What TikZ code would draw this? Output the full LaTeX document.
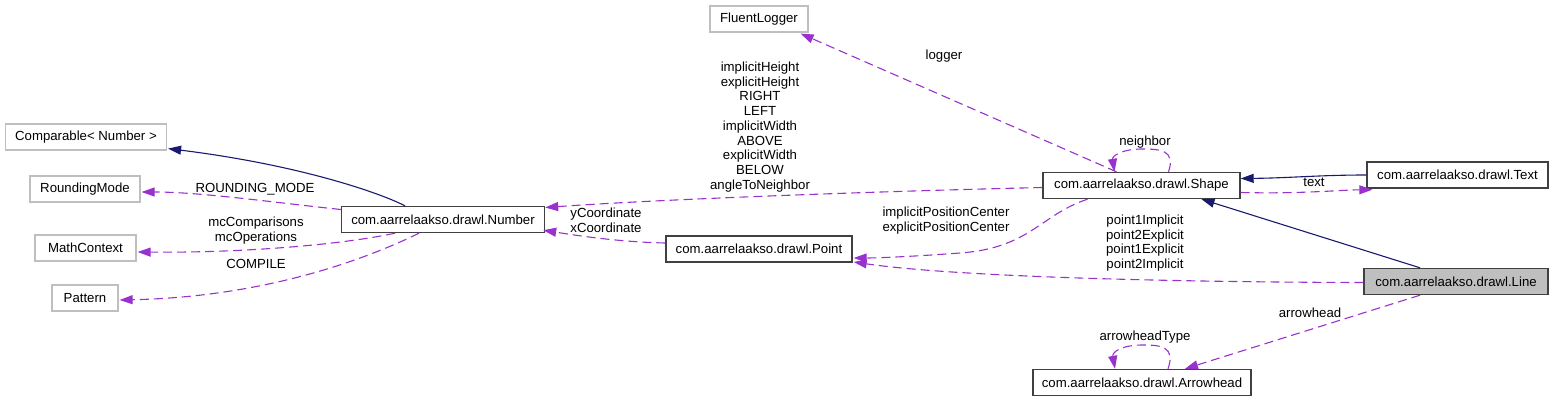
\documentclass[tikz,border=0pt]{standalone}
\usepackage{fontspec}
\setmainfont{Liberation Sans}
\usetikzlibrary{arrows.meta,calc}
\definecolor{navyedge}{RGB}{25,25,112}
\definecolor{useedge}{RGB}{153,50,204}
\definecolor{extgray}{RGB}{191,191,191}
\definecolor{selgray}{RGB}{191,191,191}
\begin{document}
\begin{tikzpicture}[x=1pt,y=-1pt,
  every node/.style={font=\fontsize{13.2}{14.75}\selectfont},
  cls/.style={draw=black!75, line width=1.4pt, rectangle, inner sep=0pt, minimum height=26pt},
  ext/.style={draw=extgray, line width=1.2pt, rectangle, inner sep=0pt, minimum height=26pt},
  inh/.style={draw=navyedge, line width=1.1pt, -{Triangle[length=13pt,width=9pt]}},
  usage/.style={draw=useedge, line width=1.1pt, dash pattern=on 9pt off 5pt, -{Triangle[length=13pt,width=9pt,fill=useedge]}},
  lbl/.style={align=center, inner sep=0pt}]
\useasboundingbox (0,0) rectangle (1553,401);
% nodes
\node[ext, minimum width=161pt] (cmp) at (86,137) {Comparable< Number >};
\node[ext, minimum width=110pt] (rm) at (85,189) {RoundingMode};
\node[ext, minimum width=101pt] (mc) at (85.5,248) {MathContext};
\node[ext, minimum width=66pt] (pat) at (85,298) {Pattern};
\node[ext, minimum width=98pt] (flg) at (759,19) {FluentLogger};
\node[cls, minimum width=203pt] (num) at (443,219.5) {com.aarrelaakso.drawl.Number};
\node[cls, minimum width=197pt] (shp) at (1141.5,185.5) {com.aarrelaakso.drawl.Shape};
\node[cls, minimum width=181pt] (txt) at (1457.5,175) {com.aarrelaakso.drawl.Text};
\node[cls, minimum width=186pt] (pnt) at (759,249) {com.aarrelaakso.drawl.Point};
\node[cls, minimum width=184pt, fill=selgray] (lin) at (1456,281.5) {com.aarrelaakso.drawl.Line};
\node[cls, minimum width=218pt] (arh) at (1142,382.5) {com.aarrelaakso.drawl.Arrowhead};
% inheritance edges
\draw[inh] ($(num.north)+(-38,0)$) .. controls (380,193) and (300,165) .. ($(cmp.south east)+(1,-2)$);
\draw[inh] (txt.west) .. controls (1320,175) and (1290,178) .. ($(shp.east)+(0,-7)$);
\draw[inh] ($(lin.north)+(-36,0)$) -- ($(shp.south)+(60,0)$);
% usage edges
\draw[usage] ($(num.west)+(0,-10)$) .. controls (270,202) and (200,192) .. ($(rm.east)+(1,3)$);
\draw[usage] ($(num.south)+(-48,0)$) .. controls (340,245) and (240,253) .. ($(mc.east)+(1,4)$);
\draw[usage] ($(num.south)+(-24,0)$) .. controls (360,262) and (260,297) .. ($(pat.east)+(1,2)$);
\draw[usage] ($(shp.west)+(0,2)$) .. controls (850,192) and (650,200) .. ($(num.east)+(0,-12)$);
\draw[usage] ($(pnt.west)+(0,-6)$) .. controls (620,242) and (580,236) .. ($(num.south east)+(-2,-3)$);
\draw[usage] ($(shp.north)+(-25,0)$) -- ($(flg.south east)+(-8,1)$);
\draw[usage] ($(shp.north)+(27,0)$) .. controls (1176,150) and (1160,149) .. (1142,149) .. controls (1122,149) and (1112,156) .. ($(shp.north)+(-27,0)$);
\draw[usage] ($(shp.east)+(0,7)$) .. controls (1300,194) and (1340,190) .. ($(txt.south west)+(6,1)$);
\draw[usage] ($(shp.south)+(-54,0)$) .. controls (1040,215) and (1030,248) .. (960,253) .. controls (920,256) and (880,258) .. ($(pnt.east)+(1,9)$);
\draw[usage] ($(lin.west)+(0,1)$) .. controls (1150,282) and (950,276) .. ($(pnt.east)+(1,13)$);
\draw[usage] ($(lin.south)+(-36,0)$) -- ($(arh.north)+(43,0)$);
\draw[usage] ($(arh.north)+(26,0)$) .. controls (1176,346) and (1160,345) .. (1142,345) .. controls (1122,345) and (1112,352) .. ($(arh.north)+(-27,0)$);
% labels
\node[lbl] (l1) at (255,189) {ROUNDING\_MODE};
\node[lbl] (l2) at (256,230.5) {mcComparisons\\mcOperations};
\node[lbl] (l3) at (256,264) {COMPILE};
\node[lbl] (l4) at (760,127) {implicitHeight\\explicitHeight\\RIGHT\\LEFT\\implicitWidth\\ABOVE\\explicitWidth\\BELOW\\angleToNeighbor};
\node[lbl] (l5) at (606,220.5) {yCoordinate\\xCoordinate};
\node[lbl] (l6) at (944,56) {logger};
\node[lbl] (l7) at (1145,142) {neighbor};
\node[lbl] (l8) at (1314,182) {text};
\node[lbl] (l9) at (946,220.5) {implicitPositionCenter\\explicitPositionCenter};
\node[lbl] (l10) at (1145,243) {point1Implicit\\point2Explicit\\point1Explicit\\point2Implicit};
\node[lbl] (l11) at (1310,313) {arrowhead};
\node[lbl] (l12) at (1145,337) {arrowheadType};
\end{tikzpicture}
\end{document}
